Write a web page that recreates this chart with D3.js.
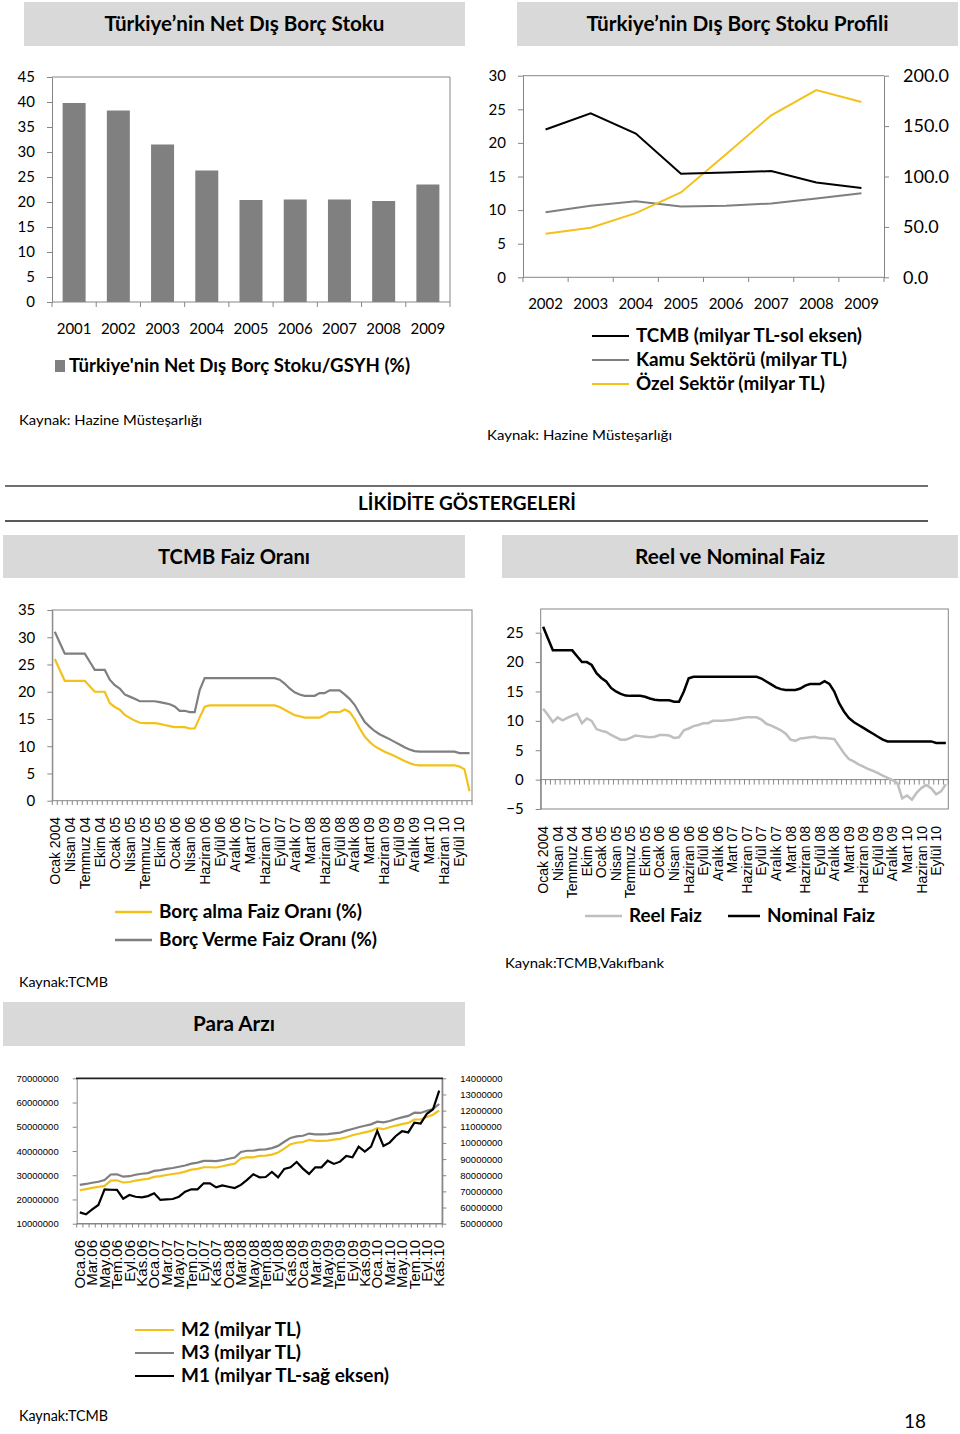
<!DOCTYPE html>
<html><head><meta charset="utf-8">
<script src="https://cdn.jsdelivr.net/npm/d3@7/dist/d3.min.js"></script>
<style>body{margin:0;background:#fff}</style>
</head><body><svg id="c" width="960" height="1434"></svg>
<script>
// ---------------- DATA ----------------
const debtYears = ["2001","2002","2003","2004","2005","2006","2007","2008","2009"];
const netDebtGDP = [39.8,38.3,31.5,26.3,20.4,20.5,20.5,20.2,23.5];

const profileYears = ["2002","2003","2004","2005","2006","2007","2008","2009"];
const tcmbDebt = [22.0,24.4,21.4,15.4,15.6,15.8,14.1,13.3];
const kamuDebt = [64.5,71.0,75.5,70.3,71.0,73.3,78.2,83.5];
const ozelDebt = [43.2,49.1,63.7,84.2,122.0,160.7,185.7,174.0];

const rateTickLabels = ["Ocak 2004","Nisan 04","Temmuz 04","Ekim 04","Ocak 05","Nisan 05","Temmuz 05","Ekim 05","Ocak 06","Nisan 06","Haziran 06","Eylül 06","Aralık 06","Mart 07","Haziran 07","Eylül 07","Aralık 07","Mart 08","Haziran 08","Eylül 08","Aralık 08","Mart 09","Haziran 09","Eylül 09","Aralık 09","Mart 10","Haziran 10","Eylül 10"];
const lendingRate = [31,29,27,27,27,27,27,25.5,24,24,24,22.2,21.2,20.6,19.5,19.1,18.7,18.25,18.25,18.25,18.25,18.1,17.9,17.7,17.3,16.5,16.5,16.25,16.25,20.3,22.5,
 22.5,22.5,22.5,22.5,22.5,22.5,22.5,22.5,22.5,22.5,22.5,22.5,22.5,22.5,
 22.2,21.5,20.6,19.9,19.5,19.25,19.25,19.25,19.75,19.75,20.25,20.25,20.25,19.5,18.7,17.6,16.0,14.5,13.6,12.8,12.2,11.75,11.3,10.8,10.3,9.8,9.4,9.1,
 9,9,9,9,9,9,9,9,8.75,8.75,8.75];
const borrowingRate = [26,24,22,22,22,22,22,21,20,20,20,17.9,17.2,16.7,15.75,15.2,14.7,14.3,14.25,14.25,14.25,14.1,13.9,13.7,13.5,13.5,13.5,13.25,13.25,15.3,17.25,
 17.5,17.5,17.5,17.5,17.5,17.5,17.5,17.5,17.5,17.5,17.5,17.5,17.5,17.5,
 17.2,16.7,16.2,15.7,15.5,15.25,15.25,15.25,15.25,15.7,16.25,16.25,16.25,16.75,16.3,15.0,13.3,11.8,10.8,10.0,9.5,9.0,8.6,8.2,7.75,7.3,6.9,6.6,
 6.5,6.5,6.5,6.5,6.5,6.5,6.5,6.5,6.25,5.75,1.75];
const nominalRate = [26,24,22,22,22,22,22,21,20,20,19.5,18.1,17.3,16.7,15.6,15.0,14.6,14.3,14.25,14.25,14.25,14.1,13.8,13.6,13.5,13.5,13.5,13.25,13.25,15.0,17.25,
 17.5,17.5,17.5,17.5,17.5,17.5,17.5,17.5,17.5,17.5,17.5,17.5,17.5,17.5,
 17.2,16.7,16.2,15.7,15.4,15.25,15.25,15.25,15.5,16.0,16.25,16.25,16.25,16.75,16.3,15.0,13.0,11.6,10.5,9.8,9.3,8.8,8.3,7.8,7.3,6.8,6.5,6.5,
 6.5,6.5,6.5,6.5,6.5,6.5,6.5,6.5,6.25,6.25,6.25];
const realRate = [12.05,11.0,9.8,10.6,10.1,10.5,10.9,11.2,9.6,10.4,
 10.0,8.6,8.3,8.1,7.6,7.2,6.8,6.8,7.1,7.5,
 7.4,7.3,7.2,7.3,7.6,7.6,7.5,7.1,7.2,8.4,
 8.7,9.1,9.3,9.6,9.6,10.0,10.0,10.0,10.1,10.2,
 10.3,10.5,10.6,10.6,10.6,10.2,9.5,9.2,8.8,8.4,
 7.8,6.8,6.6,7.0,7.1,7.2,7.3,7.1,7.1,7.0,
 6.9,5.7,4.5,3.5,3.1,2.6,2.2,1.8,1.5,1.1,
 0.7,0.3,-0.1,-0.6,-3.2,-2.7,-3.4,-2.2,-1.4,-0.9,
 -1.5,-2.5,-2.0,-0.8];

const moneyTickLabels = ["Oca.06","Mar.06","May.06","Tem.06","Eyl.06","Kas.06","Oca.07","Mar.07","May.07","Tem.07","Eyl.07","Kas.07","Oca.08","Mar.08","May.08","Tem.08","Eyl.08","Kas.08","Oca.09","Mar.09","May.09","Tem.09","Eyl.09","Kas.09","Oca.10","Mar.10","May.10","Tem.10","Eyl.10","Kas.10"];
const moneyLeftTicks = [10000000,20000000,30000000,40000000,50000000,60000000,70000000];
const moneyRightTicks = [50000000,60000000,70000000,80000000,90000000,100000000,110000000,120000000,130000000,140000000];
const moneyRightTickLabels = ["50000000","60000000","70000000","80000000","90000000","10000000","11000000","12000000","13000000","14000000"];
// millions
const m3 = [26.0,26.4,26.9,27.3,28.0,30.3,30.4,29.4,29.6,30.2,30.6,30.9,31.8,32.1,32.6,33.0,33.5,34.0,34.8,35.2,35.9,35.9,35.8,36.2,36.8,37.3,39.6,40.1,40.1,40.6,40.7,41.2,42.1,43.8,45.4,46.0,46.3,47.2,46.9,46.9,47.0,47.3,47.6,48.4,49.1,49.8,50.4,51.0,52.1,51.8,52.4,53.2,53.9,54.5,55.8,55.7,56.6,57.3,59.4];
const m2 = [23.8,24.3,24.8,25.2,25.6,27.8,27.9,27.0,27.2,27.8,28.2,28.5,29.3,29.6,30.1,30.5,30.9,31.5,32.3,32.6,33.3,33.3,33.2,33.7,34.3,34.8,36.9,37.5,37.4,38.0,38.1,38.5,39.4,41.0,42.8,43.4,43.7,44.6,44.2,44.2,44.3,44.7,45.0,45.7,46.5,47.1,47.7,48.3,49.4,49.0,49.8,50.5,51.1,51.6,53.0,53.0,54.0,55.0,56.7];
const m1 = [57.0,55.8,58.9,61.6,71.3,71.0,70.9,65.5,67.8,66.7,66.3,67.1,68.8,64.7,65.1,65.3,66.7,69.8,71.3,71.3,75.0,75.0,72.5,73.7,72.9,72.1,74.0,77.1,80.6,78.7,78.9,82.0,78.7,83.9,84.9,88.2,84.1,80.8,84.9,84.9,89.0,87.0,88.4,91.9,91.1,97.7,94.6,97.7,107.4,98.1,100.2,104.3,107.2,106.5,112.5,112.0,118.0,120.8,132.4];

// ---------------- DRAW ----------------
const svg = d3.select("#c");
svg.append("rect").attr("width",960).attr("height",1434).attr("fill","#fff");
const AX = "#868686", YEL = "#f2c21b", GRY = "#7f7f7f", LGRY = "#bfbfbf";
const CAL = "Lato, 'Open Sans', sans-serif";
const ARI = "'Liberation Sans', Arial, sans-serif";

function txt(g, x, y, s, o = {}) {
  const t = g.append("text").attr("x", x).attr("y", y).attr("dy", "0.35em")
    .attr("font-family", o.font || CAL).attr("font-size", o.size || 14)
    .attr("font-weight", o.bold ? "bold" : "normal")
    .attr("text-anchor", o.anchor || "start").attr("fill", o.fill || "#000").text(s);
  if (o.len) t.attr("textLength", o.len).attr("lengthAdjust", "spacingAndGlyphs");
  return t;
}
function hline(g, x1, x2, y, c, w) { g.append("line").attr("x1",x1).attr("x2",x2).attr("y1",y).attr("y2",y).attr("stroke",c).attr("stroke-width",w||1); }
function vline(g, x, y1, y2, c, w) { g.append("line").attr("x1",x).attr("x2",x).attr("y1",y1).attr("y2",y2).attr("stroke",c).attr("stroke-width",w||1); }
function header(x, y, w, h, label, len) {
  svg.append("rect").attr("x",x).attr("y",y).attr("width",w).attr("height",h).attr("fill","#d9d9d9");
  txt(svg, x + w/2, y + h/2, label, {bold:true, size:20, anchor:"middle", len});
}
function styleAxis(g, size, font) {
  g.selectAll("path,line").attr("stroke", AX);
  g.selectAll("text").attr("font-family", font || CAL).attr("font-size", size).attr("fill", "#000");
}
function legendLine(g, x1, x2, y, c, label, len, w) {
  hline(g, x1, x2, y, c, w || 2.5);
  txt(g, x2 + 7, y, label, {bold:true, size:18, len});
}

// Headers
header(24, 2, 441, 44, "Türkiye’nin Net Dış Borç Stoku", 280);
header(517, 2, 441, 44, "Türkiye’nin Dış Borç Stoku Profili", 302);

// ---------- Chart 1 ----------
{
  const g = svg.append("g");
  const x = d3.scaleBand().domain(debtYears).range([52,450]).paddingInner(0.48).paddingOuter(0.24);
  const y = d3.scaleLinear().domain([0,45]).range([302,77]);
  g.selectAll("rect.bar").data(netDebtGDP).join("rect").attr("class","bar")
    .attr("x",(d,i)=>x(debtYears[i])).attr("y",d=>y(d)).attr("width",x.bandwidth())
    .attr("height",d=>y(0)-y(d)).attr("fill","#808080");
  g.append("path").attr("d","M52,77H450V302").attr("fill","none").attr("stroke",AX);
  g.append("g").attr("transform","translate(52,0)")
    .call(d3.axisLeft(y).tickValues(d3.range(0,46,5)).tickSize(5).tickSizeOuter(0).tickPadding(12))
    .call(styleAxis, 15);
  hline(g, 52, 450, 302, AX);
  d3.range(debtYears.length+1).forEach(i => vline(g, x.range()[0] + i*x.step(), 302, 307, AX));
  debtYears.forEach(d => txt(g, x(d)+x.bandwidth()/2, 329, d, {size:15, anchor:"middle"}));
  g.append("rect").attr("x",55).attr("y",360).attr("width",10).attr("height",12).attr("fill","#808080");
  txt(g, 69, 366, "Türkiye'nin Net Dış Borç Stoku/GSYH (%)", {bold:true, size:18, len:341});
  txt(g, 19, 420, "Kaynak: Hazine Müsteşarlığı", {size:14, len:183});
}

// ---------- Chart 2 ----------
{
  const g = svg.append("g");
  const x = d3.scaleBand().domain(profileYears).range([523,884]);
  const yl = d3.scaleLinear().domain([0,30]).range([277.3,75.7]);
  const yr = d3.scaleLinear().domain([0,200]).range([277.3,75.7]);
  const cx = d => x(d) + x.bandwidth()/2;
  hline(g, 523, 884, 75.7, AX);
  g.append("g").attr("transform","translate(523,0)")
    .call(d3.axisLeft(yl).tickValues(d3.range(0,31,5)).tickSize(5).tickSizeOuter(0).tickPadding(12))
    .call(styleAxis, 15);
  g.append("g").attr("transform","translate(884,0)")
    .call(d3.axisRight(yr).tickValues(d3.range(0,201,50)).tickSize(5).tickSizeOuter(0).tickPadding(14).tickFormat(d3.format(".1f")))
    .call(styleAxis, 18);
  hline(g, 523, 884, 277.3, AX);
  d3.range(profileYears.length+1).forEach(i => vline(g, 523 + i*x.step(), 277.3, 282, AX));
  profileYears.forEach(d => txt(g, cx(d), 304, d, {size:15, anchor:"middle"}));
  const ln = (arr, ys) => d3.line().x((d,i)=>cx(profileYears[i])).y(d=>ys(d))(arr);
  g.append("path").attr("d", ln(kamuDebt, yr)).attr("fill","none").attr("stroke",GRY).attr("stroke-width",2);
  g.append("path").attr("d", ln(ozelDebt, yr)).attr("fill","none").attr("stroke",YEL).attr("stroke-width",2);
  g.append("path").attr("d", ln(tcmbDebt, yl)).attr("fill","none").attr("stroke","#000").attr("stroke-width",2);
  legendLine(g, 592, 629, 336, "#000", "TCMB (milyar TL-sol eksen)", 226, 2);
  legendLine(g, 592, 629, 360, GRY, "Kamu Sektörü (milyar TL)", 211, 2);
  legendLine(g, 592, 629, 384, YEL, "Özel Sektör (milyar TL)", 189, 2);
  txt(g, 487, 435, "Kaynak: Hazine Müsteşarlığı", {size:14, len:185});
}

// Section title
hline(svg, 5, 928, 486, "#404040", 1.5);
hline(svg, 5, 928, 521, "#595959", 2);
txt(svg, 467, 503, "LİKİDİTE GÖSTERGELERİ", {bold:true, size:19, anchor:"middle", len:218});
header(3, 535, 462, 43, "TCMB Faiz Oranı", 152);
header(502, 535, 456, 43, "Reel ve Nominal Faiz", 190);

// ---------- Chart 3 ----------
{
  const g = svg.append("g");
  const n = lendingRate.length;
  const x = d3.scaleBand().domain(d3.range(n)).range([52.3,472]);
  const y = d3.scaleLinear().domain([0,35]).range([800.7,610]);
  const cx = i => x(i) + x.bandwidth()/2;
  g.append("rect").attr("x",52.3).attr("y",610).attr("width",472-52.3).attr("height",800.7-610).attr("fill","none").attr("stroke",AX);
  g.append("g").attr("transform","translate(52.3,0)")
    .call(d3.axisLeft(y).tickValues(d3.range(0,36,5)).tickSize(5).tickSizeOuter(0).tickPadding(12))
    .call(styleAxis, 15);
  d3.range(n+1).forEach(i => vline(g, 52.3 + i*x.step(), 800.7, 805, AX));
  rateTickLabels.forEach((s,k) => {
    const xx = cx(k*3);
    g.append("text").attr("transform",`translate(${xx},817) rotate(-90)`).attr("dy","0.35em")
      .attr("text-anchor","end").attr("font-family",ARI).attr("font-size",14).text(s);
  });
  const ln = arr => d3.line().x((d,i)=>cx(i)).y(d=>y(d))(arr);
  g.append("path").attr("d", ln(lendingRate)).attr("fill","none").attr("stroke",GRY).attr("stroke-width",2.2);
  g.append("path").attr("d", ln(borrowingRate)).attr("fill","none").attr("stroke",YEL).attr("stroke-width",2.2);
  legendLine(g, 115, 152, 912, YEL, "Borç alma Faiz Oranı (%)", 203);
  legendLine(g, 115, 152, 940, GRY, "Borç Verme Faiz Oranı (%)", 218);
  txt(g, 19, 982, "Kaynak:TCMB", {size:14, len:89});
}

// ---------- Chart 4 ----------
{
  const g = svg.append("g");
  const n = nominalRate.length;
  const x = d3.scaleBand().domain(d3.range(n)).range([540.7,948.3]);
  const y = d3.scaleLinear().domain([-5,25]).range([809,632.7]);
  const cx = i => x(i) + x.bandwidth()/2;
  g.append("rect").attr("x",540.7).attr("y",609).attr("width",948.3-540.7).attr("height",809-609).attr("fill","none").attr("stroke",AX);
  g.append("g").attr("transform","translate(540.7,0)")
    .call(d3.axisLeft(y).tickValues(d3.range(-5,26,5)).tickSize(5).tickSizeOuter(0).tickPadding(12))
    .call(styleAxis, 15);
  hline(g, 540.7, 948.3, y(0), AX);
  d3.range(n+1).forEach(i => vline(g, 540.7 + i*x.step(), y(0), y(0)+5, AX));
  rateTickLabels.forEach((s,k) => {
    const xx = cx(k*3);
    g.append("text").attr("transform",`translate(${xx},826) rotate(-90)`).attr("dy","0.35em")
      .attr("text-anchor","end").attr("font-family",ARI).attr("font-size",14).text(s);
  });
  const ln = arr => d3.line().x((d,i)=>cx(i)).y(d=>y(d))(arr);
  g.append("path").attr("d", ln(realRate)).attr("fill","none").attr("stroke",LGRY).attr("stroke-width",2.5);
  g.append("path").attr("d", ln(nominalRate)).attr("fill","none").attr("stroke","#000").attr("stroke-width",2.5);
  legendLine(g, 585, 622, 916, LGRY, "Reel Faiz", 73);
  legendLine(g, 728, 760, 916, "#000", "Nominal Faiz", 108);
  txt(g, 505, 963, "Kaynak:TCMB,Vakıfbank", {size:14, len:159});
}

header(3, 1002, 462, 44, "Para Arzı", 82);

// ---------- Chart 5 ----------
{
  const g = svg.append("g");
  const n = m2.length;
  const x = d3.scaleBand().domain(d3.range(n)).range([76.7,442.3]);
  const yl = d3.scaleLinear().domain([10000000,70000000]).range([1223.7,1078.3]);
  const yr = d3.scaleLinear().domain([50000000,140000000]).range([1223.7,1078.3]);
  const cx = i => x(i) + x.bandwidth()/2;
  vline(g, 442.3, 1078.3, 1223.7, AX, 1.5);
  g.append("g").attr("transform","translate(76.7,0)")
    .call(d3.axisLeft(yl).tickValues(moneyLeftTicks).tickSize(4).tickSizeOuter(0).tickPadding(14).tickFormat(d3.format("d")))
    .call(styleAxis, 9.5, ARI);
  g.append("g").attr("transform","translate(442.3,0)")
    .call(d3.axisRight(yr).tickValues(moneyRightTicks).tickSize(4).tickSizeOuter(0).tickPadding(14)
      .tickFormat((d,i)=>moneyRightTickLabels[i]))
    .call(styleAxis, 9.5, ARI);
  hline(g, 76.7, 442.3, 1223.7, AX, 1.5);
  d3.range(n+1).forEach(i => vline(g, 76.7 + i*x.step(), 1223.7, 1227.5, AX));
  hline(g, 76, 443, 1078.3, "#222", 1.8);
  moneyTickLabels.forEach((s,k) => {
    const xx = cx(k*2);
    g.append("text").attr("transform",`translate(${xx},1240) rotate(-90)`).attr("dy","0.35em")
      .attr("text-anchor","end").attr("font-family",ARI).attr("font-size",15).text(s);
  });
  const ln = (arr, ys) => d3.line().x((d,i)=>cx(i)).y(d=>ys(d*1e6))(arr);
  g.append("path").attr("d", ln(m3, yl)).attr("fill","none").attr("stroke",GRY).attr("stroke-width",2.2);
  g.append("path").attr("d", ln(m2, yl)).attr("fill","none").attr("stroke",YEL).attr("stroke-width",2.2);
  g.append("path").attr("d", ln(m1, yr)).attr("fill","none").attr("stroke","#000").attr("stroke-width",2.2);
  legendLine(g, 135, 174, 1330, YEL, "M2 (milyar TL)", 120, 2);
  legendLine(g, 135, 174, 1353, GRY, "M3 (milyar TL)", 120, 2);
  legendLine(g, 135, 174, 1376, "#000", "M1 (milyar TL-sağ eksen)", 208, 2);
  txt(g, 19, 1416, "Kaynak:TCMB", {size:14.5, len:89});
}
txt(svg, 915, 1421, "18", {size:19, anchor:"middle"});
</script></body></html>
